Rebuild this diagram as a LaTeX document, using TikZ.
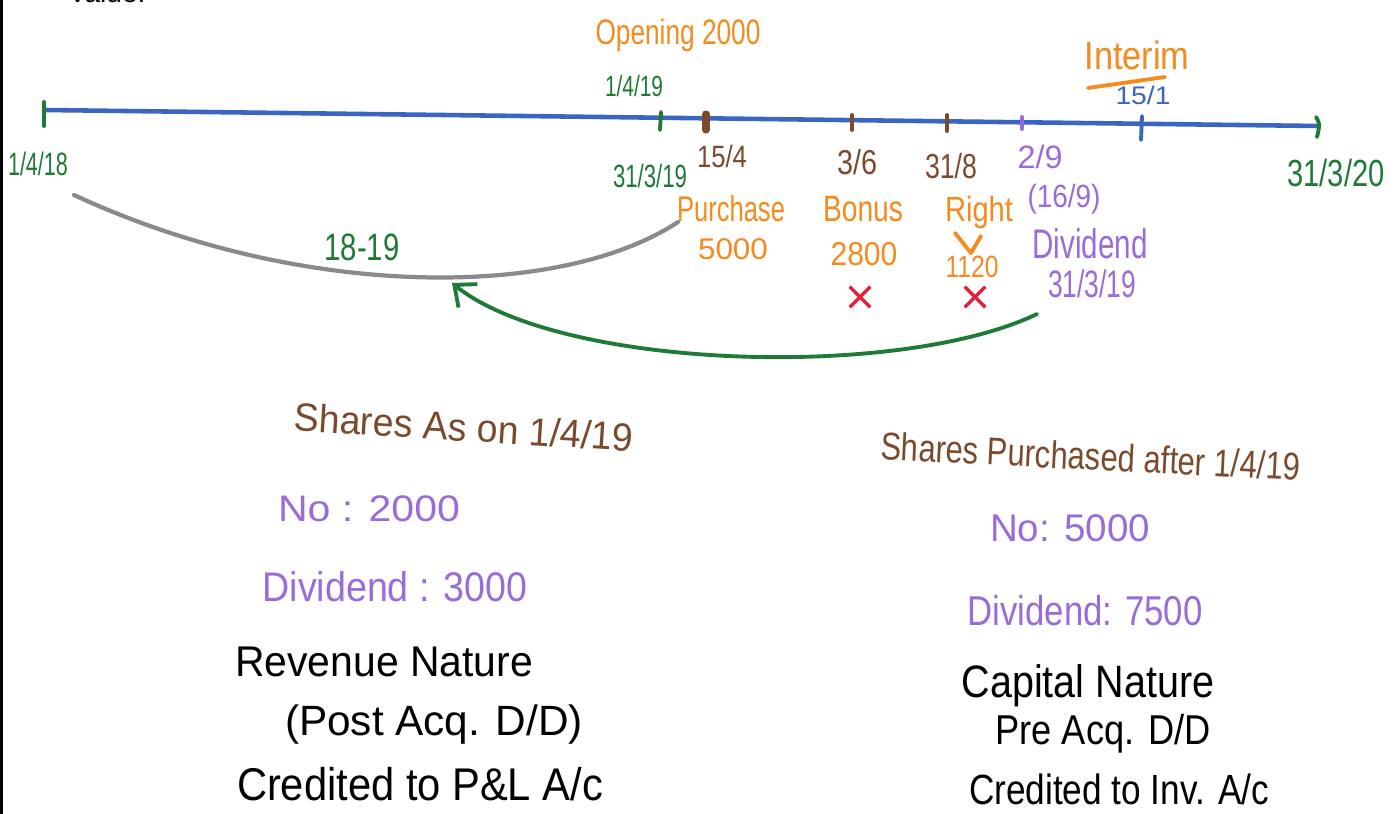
\documentclass[tikz,border=0pt]{standalone}
\usepackage{fontspec}
\setmainfont{Liberation Sans}
\usepackage{graphicx}
\usetikzlibrary{arrows.meta,shapes.misc}
\definecolor{tblue}{HTML}{3A66C2}
\definecolor{tgreen}{HTML}{1E7A36}
\definecolor{torange}{HTML}{F58A1F}
\definecolor{tbrown}{HTML}{7B4A2C}
\definecolor{tpurple}{HTML}{9A6CDA}
\definecolor{tred}{HTML}{E3213B}
\definecolor{tgray}{HTML}{8A8A8A}
\newcommand\hw[3]{\scalebox{1}[#2]{\resizebox{#1}{!}{#3}}}
\begin{document}
\begin{tikzpicture}[x=0.02cm,y=-0.02cm,
  lbl/.style={anchor=base,inner sep=0pt},
  tick/.style={line width=2.2pt,line cap=round},
  xmark/.style={cross out,draw=tred,line width=2pt,minimum size=0.34cm,inner sep=0pt},
  pen/.style={line width=2.2pt,line cap=round,line join=round}]
\useasboundingbox (0,0) rectangle (1397,814);
\fill[white] (0,0) rectangle (1397,814);
% left page edge
\draw[line width=1.8pt] (1.5,0) -- (1.5,814);
% cut-off text at top
\node[lbl] (val) at (108,3) {\hw{1.5cm}{1}{value.}};

% timeline
\coordinate (tl) at (45,110);
\coordinate (tr) at (1318,126);
\draw[tblue,line width=2.6pt] (tl) -- (tr);
\draw[tick,tgreen] (44,102) -- (44,126);
\draw[tick,tgreen] (661,112) -- (660,130);
\draw[tbrown,line width=4pt,line cap=round] (706,114) -- (706,130);
\draw[tick,tbrown] (852,115) -- (852,130);
\draw[tick,tbrown] (947,115) -- (947,131);
\draw[tick,tpurple] (1022,117) -- (1022,129);
\draw[tick,tblue] (1142,116) -- (1141,140);
\draw[tick,tgreen] (1316,117) .. controls (1320,124) .. (1317,137);

% top labels
\node[lbl,text=torange] (open) at (678,45) {\hw{3.3cm}{1.35}{Opening 2000}};
\node[lbl,text=tgreen] (d1419) at (634,97) {\hw{1.16cm}{1.4}{1/4/19}};
\node[lbl,text=torange] (interim) at (1137,70) {\hw{2.1cm}{1.15}{Interim}};
\draw[pen,torange] (1088,88) -- (1165,77);
\node[lbl,text=tblue] (d151) at (1143,105) {\hw{1.1cm}{0.9}{15/1}};

% dates under the line
\node[lbl,text=tgreen] (d1418) at (38,176) {\hw{1.2cm}{1.5}{1/4/18}};
\node[lbl,text=tgreen] (d3319) at (650,188) {\hw{1.48cm}{1.45}{31/3/19}};
\node[lbl,text=tbrown] (d154) at (722,168) {\hw{1.0cm}{1.2}{15/4}};
\node[lbl,text=tbrown] (d36) at (857,175) {\hw{0.8cm}{1.2}{3/6}};
\node[lbl,text=tbrown] (d318) at (951,179) {\hw{1.04cm}{1.3}{31/8}};
\node[lbl,text=tpurple] (d29) at (1040,169) {\hw{0.9cm}{1.0}{2/9}};
\node[lbl,text=tpurple] (d169) at (1064,208) {\hw{1.46cm}{1.15}{(16/9)}};
\node[lbl,text=tgreen] (d3320) at (1336,187) {\hw{1.94cm}{1.3}{31/3/20}};

% events
\node[lbl,text=torange] (purch) at (731,222) {\hw{2.16cm}{1.4}{Purchase}};
\node[lbl,text=torange] (p5000) at (733,260) {\hw{1.4cm}{0.95}{5000}};
\node[lbl,text=torange] (bonus) at (863,222) {\hw{1.6cm}{1.3}{Bonus}};
\node[lbl,text=torange] (b2800) at (864,266) {\hw{1.34cm}{1.1}{2800}};
\node[lbl,text=torange] (right) at (979,222) {\hw{1.36cm}{1.2}{Right}};
\draw[pen,torange] (955,233) -- (971,253) -- (981,236);
\node[lbl,text=torange] (r1120) at (972,278) {\hw{1.06cm}{1.25}{1120}};
\node[xmark] (x1) at (860,297) {};
\node[xmark] (x2) at (975,297) {};
\node[lbl,text=tpurple] (divd) at (1090,259) {\hw{2.3cm}{1.4}{Dividend}};
\node[lbl,text=tpurple] (d3319b) at (1092,298) {\hw{1.76cm}{1.45}{31/3/19}};

% year curve and arrow
\coordinate (gs) at (74,195);
\coordinate (ge) at (678,222);
\draw[tgray,line width=2.4pt,line cap=round] (gs) .. controls (300,300) and (560,300) .. (ge);
\node[lbl,text=tgreen] (yr) at (362,261) {\hw{1.5cm}{1.3}{18-19}};
\coordinate (as) at (1037,314);
\coordinate (at) at (452,283);
\draw[tgreen,line width=2.2pt,line cap=round,-{Straight Barb[length=3.5mm,width=6mm]}] (as) .. controls (900,380) and (560,370) .. (at);

% left block
\node[lbl,text=tbrown,rotate=-3.5] (lh) at (463,441) {\hw{6.8cm}{1.05}{Shares As on 1/4/19}};
\node[lbl,text=tpurple] (lno) at (369,521) {\hw{3.64cm}{0.9}{No : 2000}};
\node[lbl,text=tpurple] (ldiv) at (395,601) {\hw{5.3cm}{1.1}{Dividend : 3000}};
\node[lbl] (lr1) at (384,676) {\hw{5.96cm}{1.05}{Revenue Nature}};
\node[lbl] (lr2) at (434,735) {\hw{5.96cm}{1.0}{(Post Acq. D/D)}};
\node[lbl] (lr3) at (420,800) {\hw{7.32cm}{1.1}{Credited to P\&L A/c}};

% right block
\node[lbl,text=tbrown,rotate=-2.8] (rh) at (1090,470) {\hw{8.4cm}{1.25}{Shares Purchased after 1/4/19}};
\node[lbl,text=tpurple] (rno) at (1070,541) {\hw{3.2cm}{1.0}{No: 5000}};
\node[lbl,text=tpurple] (rdiv) at (1085,625) {\hw{4.7cm}{1.2}{Dividend: 7500}};
\node[lbl] (rr1) at (1088,697) {\hw{5.05cm}{1.15}{Capital Nature}};
\node[lbl] (rr2) at (1103,744) {\hw{4.3cm}{1.15}{Pre Acq. D/D}};
\node[lbl] (rr3) at (1119,804) {\hw{6.0cm}{1.2}{Credited to Inv. A/c}};
\end{tikzpicture}
\end{document}
